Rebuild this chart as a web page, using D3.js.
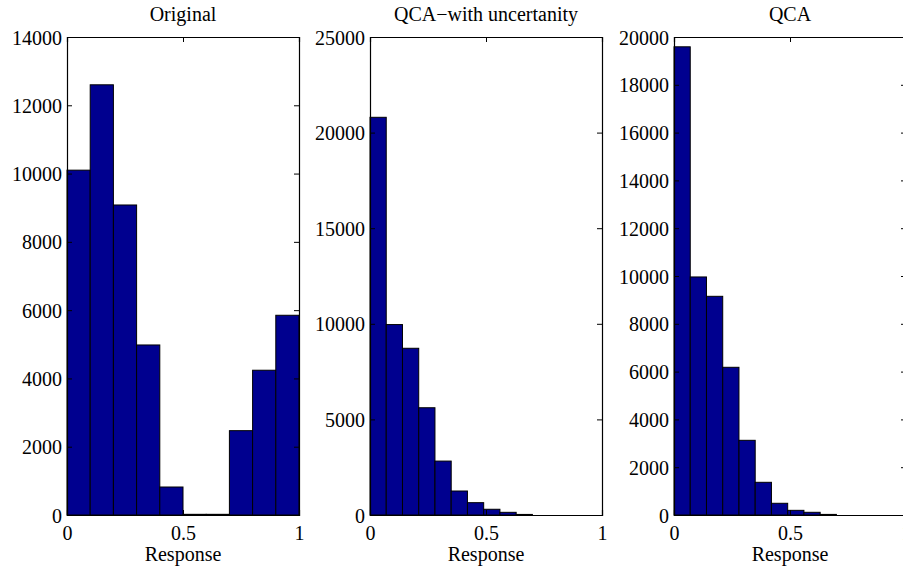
<!DOCTYPE html>
<html>
<head>
<meta charset="utf-8">
<script src="https://cdn.jsdelivr.net/npm/d3@7/dist/d3.min.js"></script>
<style>
html,body{margin:0;padding:0;background:#fff;overflow:hidden;}
svg{display:block;}
</style>
</head>
<body>
<svg id="chart" width="903" height="573"></svg>
<script>
// ---- data ----
const titles = ["Original", "QCA\u2212with uncertanity", "QCA"];
const xLabel = "Response";

const originalEdges = [0, 0.1, 0.2, 0.3, 0.4, 0.5, 0.6, 0.7, 0.8, 0.9, 1.0];
const originalCounts = [10100, 12600, 9080, 4980, 820, 20, 20, 2470, 4240, 5850];

const qcaUncEdges = [0, 0.07, 0.14, 0.21, 0.28, 0.35, 0.42, 0.49, 0.56, 0.63, 0.70];
const qcaUncCounts = [20800, 9960, 8720, 5610, 2820, 1255, 645, 300, 140, 30];

const qcaEdges = [0, 0.07, 0.14, 0.21, 0.28, 0.35, 0.42, 0.49, 0.56, 0.63, 0.70];
const qcaCounts = [19590, 9960, 9150, 6180, 3125, 1368, 490, 195, 113, 25];

const xTicks = [0, 0.5, 1];
const xTickLabels = ["0", "0.5", "1"];
const yTicksOriginal = [0, 2000, 4000, 6000, 8000, 10000, 12000, 14000];
const yTicksQcaUnc = [0, 5000, 10000, 15000, 20000, 25000];
const yTicksQca = [0, 2000, 4000, 6000, 8000, 10000, 12000, 14000, 16000, 18000, 20000];

const panels = [
  {title: titles[0], edges: originalEdges, counts: originalCounts, yTicks: yTicksOriginal},
  {title: titles[1], edges: qcaUncEdges, counts: qcaUncCounts, yTicks: yTicksQcaUnc},
  {title: titles[2], edges: qcaEdges, counts: qcaCounts, yTicks: yTicksQca}
];

// ---- layout ----
const lefts = [67, 370, 674];
const plotW = 232;
const plotTop = 37, plotBottom = 515;
const barFill = "#00008f";
const fontSize = 20;
const serif = "'Liberation Serif','Times New Roman',Times,serif";

const svg = d3.select("#chart");

panels.forEach((p, i) => {
  const x = d3.scaleLinear().domain([0, 1]).range([lefts[i], lefts[i] + plotW]);
  const yMax = p.yTicks[p.yTicks.length - 1];
  const y = d3.scaleLinear().domain([0, yMax]).range([plotBottom, plotTop]);
  const g = svg.append("g");

  const bins = p.counts.map((c, k) => ({x0: p.edges[k], x1: p.edges[k + 1], v: c}));
  g.selectAll("rect.bar").data(bins).enter().append("rect")
    .attr("class", "bar")
    .attr("x", d => x(d.x0))
    .attr("y", d => y(d.v))
    .attr("width", d => x(d.x1) - x(d.x0))
    .attr("height", d => y(0) - y(d.v))
    .attr("fill", barFill)
    .attr("stroke", "#000")
    .attr("stroke-width", 1);

  const tickLen = 5;
  const axBottom = d3.axisBottom(x).tickValues(xTicks).tickSize(-tickLen).tickPadding(11)
    .tickFormat((d, k) => xTickLabels[k]);
  const axTop = d3.axisTop(x).tickValues(xTicks).tickSize(-tickLen).tickFormat("");
  const axLeft = d3.axisLeft(y).tickValues(p.yTicks).tickSize(-tickLen).tickPadding(5)
    .tickFormat(d3.format("d"));
  const axRight = d3.axisRight(y).tickValues(p.yTicks).tickSize(-tickLen).tickFormat("");

  const gb = g.append("g").attr("transform", `translate(0,${plotBottom})`).call(axBottom);
  const gt = g.append("g").attr("transform", `translate(0,${plotTop})`).call(axTop);
  const gl = g.append("g").attr("transform", `translate(${lefts[i]},0)`).call(axLeft);
  const gr = g.append("g").attr("transform", `translate(${lefts[i] + plotW},0)`).call(axRight);

  [gb, gt, gl, gr].forEach(a => {
    a.attr("font-family", serif).attr("font-size", fontSize);
    a.select(".domain").attr("stroke", "#000").attr("stroke-width", 1.2);
    a.selectAll(".tick line").attr("stroke", "#000").attr("stroke-width", 1);
    a.selectAll(".tick text").attr("fill", "#000");
  });
  gb.selectAll(".tick text").attr("dy", "0.71em");
  gl.selectAll(".tick text").attr("dy", "0.35em");

  g.append("text")
    .attr("x", lefts[i] + plotW / 2)
    .attr("y", 21)
    .attr("text-anchor", "middle")
    .attr("font-size", fontSize)
    .attr("font-family", serif)
    .text(p.title);

  g.append("text")
    .attr("x", lefts[i] + plotW / 2)
    .attr("y", 561)
    .attr("text-anchor", "middle")
    .attr("font-size", fontSize)
    .attr("font-family", serif)
    .text(xLabel);
});
</script>
</body>
</html>
